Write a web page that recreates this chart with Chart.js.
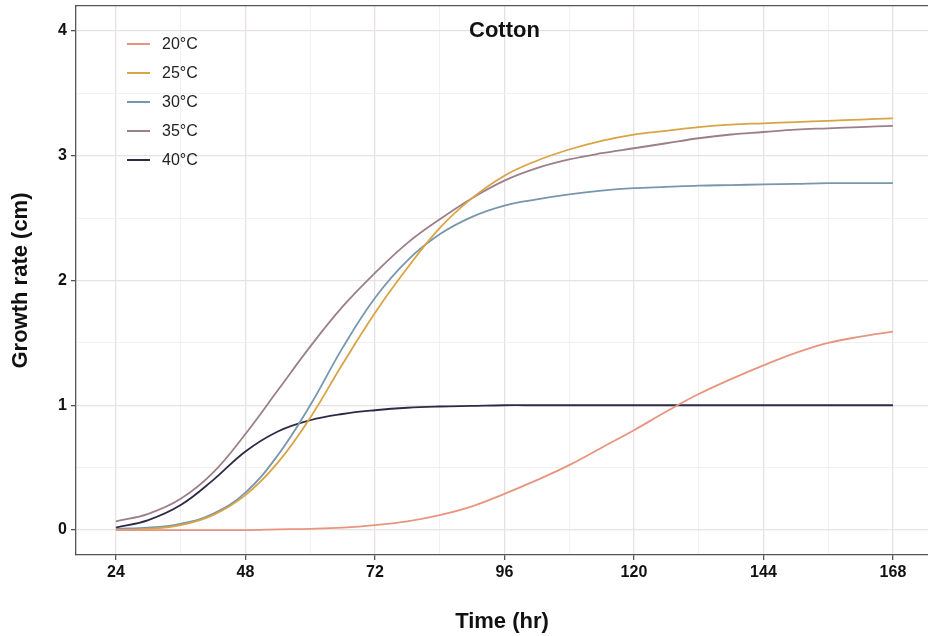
<!DOCTYPE html>
<html>
<head>
<meta charset="utf-8">
<title>Cotton growth</title>
<script src="https://cdn.jsdelivr.net/npm/chart.js@4.4.1/dist/chart.umd.min.js"></script>
<style>
  html, body { margin: 0; padding: 0; background: #fff; }
  #wrap { position: relative; width: 928px; height: 636px; overflow: hidden; }
  #legend { position: absolute; left: 127px; top: 30px; font-family: "Liberation Sans", Arial, sans-serif; font-size: 16px; color: #222; }
  .item { display: flex; align-items: center; height: 28.8px; }
  .swatch { width: 23px; height: 2px; margin-right: 12px; }
</style>
</head>
<body>
<div id="wrap">
  <canvas id="growth" width="928" height="636"></canvas>
  <div id="legend"></div>
</div>
<script>
// values, every 6 h
const hours = [24, 30, 36, 42, 48, 54, 60, 66, 72, 78, 84, 90, 96, 102, 108, 114, 120, 126, 132, 138, 144, 150, 156, 162, 168];
const temp20 = [0, 0, 0, 0, 0, 0.005, 0.01, 0.02, 0.04, 0.07, 0.12, 0.19, 0.29, 0.40, 0.52, 0.66, 0.80, 0.95, 1.09, 1.21, 1.32, 1.42, 1.50, 1.55, 1.59];
const temp25 = [0, 0.01, 0.04, 0.12, 0.28, 0.54, 0.90, 1.33, 1.74, 2.10, 2.42, 2.66, 2.84, 2.96, 3.05, 3.12, 3.17, 3.20, 3.23, 3.25, 3.26, 3.27, 3.28, 3.29, 3.30];
const temp30 = [0.01, 0.02, 0.05, 0.13, 0.30, 0.60, 1.00, 1.46, 1.86, 2.16, 2.37, 2.51, 2.60, 2.65, 2.69, 2.72, 2.74, 2.75, 2.76, 2.765, 2.77, 2.775, 2.78, 2.78, 2.78];
const temp35 = [0.07, 0.13, 0.25, 0.46, 0.77, 1.12, 1.47, 1.79, 2.06, 2.30, 2.49, 2.66, 2.80, 2.90, 2.97, 3.02, 3.06, 3.10, 3.14, 3.17, 3.19, 3.21, 3.22, 3.23, 3.24];
const temp40 = [0.02, 0.08, 0.20, 0.40, 0.63, 0.79, 0.88, 0.93, 0.96, 0.98, 0.99, 0.995, 1, 1, 1, 1, 1, 1, 1, 1, 1, 1, 1, 1, 1];

const seriesLabels = ['20°C', '25°C', '30°C', '35°C', '40°C'];
const seriesValues = [temp20, temp25, temp30, temp35, temp40];
const seriesColors = ['#e8957f', '#d8a444', '#7896ad', '#9b7f8a', '#2d2a47'];

const xTickLabels = [24, 48, 72, 96, 120, 144, 168];
const yTickLabels = [0, 1, 2, 3, 4];
const titleText = 'Cotton';
const titleAt = [96, 4];

const FONT = '"Liberation Sans", Arial, sans-serif';
const BORDER = '#555555';

const datasets = seriesLabels.map((label, i) => ({
    label: label,
    data: hours.map((h, j) => ({ x: h, y: seriesValues[i][j] })),
    borderColor: seriesColors[i],
    borderWidth: 1.8,
    pointRadius: 0,
    fill: false,
    tension: 0.4
}));

// legend inside the panel, top-left
const legendBox = document.getElementById('legend');
seriesLabels.forEach((label, i) => {
    const row = document.createElement('div');
    row.className = 'item';
    row.innerHTML = '<span class="swatch" style="background:' + seriesColors[i] + '"></span><span>' + label + '</span>';
    legendBox.appendChild(row);
});

const plotTitle = {
    id: 'plotTitle',
    afterDatasetsDraw(chart) {
        const { ctx, scales } = chart;
        ctx.save();
        ctx.font = 'bold 22px ' + FONT;
        ctx.fillStyle = '#111';
        ctx.textAlign = 'center';
        ctx.textBaseline = 'middle';
        ctx.fillText(titleText, scales.x.getPixelForValue(titleAt[0]), scales.y.getPixelForValue(titleAt[1]));
        ctx.restore();
    }
};

function gridColor(isMajor) { return isMajor ? '#e8e1e1' : '#f1ecec'; }

new Chart(document.getElementById('growth').getContext('2d'), {
    type: 'line',
    data: { datasets: datasets },
    options: {
        responsive: false,
        animation: false,
        layout: { padding: 0 },
        plugins: { legend: { display: false }, tooltip: { enabled: false } },
        scales: {
            x: {
                type: 'linear',
                min: 16.6,
                max: 174.5,
                afterFit: (s) => { s.height = 81; s.paddingLeft = 0; s.paddingRight = 0; },
                ticks: {
                    stepSize: 12,
                    includeBounds: false,
                    autoSkip: false,
                    maxRotation: 0,
                    padding: 3,
                    color: '#111',
                    font: { family: FONT, size: 16, weight: 'bold' },
                    callback: (v) => xTickLabels.includes(v) ? String(v) : ''
                },
                grid: {
                    color: (c) => gridColor(xTickLabels.includes(c.tick && c.tick.value)),
                    lineWidth: (c) => xTickLabels.includes(c.tick && c.tick.value) ? 1.3 : 0.8,
                    tickLength: 5,
                    tickColor: (c) => xTickLabels.includes(c.tick && c.tick.value) ? BORDER : 'rgba(0,0,0,0)'
                },
                border: { display: true, color: BORDER, width: 1.3 },
                title: {
                    display: true,
                    text: 'Time (hr)',
                    color: '#111',
                    font: { family: FONT, size: 22, weight: 'bold' },
                    padding: { top: 0, bottom: 1 }
                }
            },
            x2: {
                type: 'linear',
                position: 'top',
                min: 16.6,
                max: 174.5,
                afterFit: (s) => { s.height = 6; s.paddingLeft = 0; s.paddingRight = 0; },
                ticks: { display: false },
                grid: { display: false, drawTicks: false },
                border: { display: true, color: BORDER, width: 1.3 }
            },
            y: {
                type: 'linear',
                min: -0.2,
                max: 4.2,
                afterFit: (s) => { s.width = 76; s.paddingTop = 0; s.paddingBottom = 0; },
                ticks: {
                    stepSize: 0.5,
                    includeBounds: false,
                    padding: 4,
                    color: '#111',
                    font: { family: FONT, size: 16, weight: 'bold' },
                    callback: (v) => yTickLabels.includes(v) ? String(v) : ''
                },
                grid: {
                    color: (c) => gridColor(yTickLabels.includes(c.tick && c.tick.value)),
                    lineWidth: (c) => yTickLabels.includes(c.tick && c.tick.value) ? 1.3 : 0.8,
                    tickLength: 5,
                    tickColor: (c) => yTickLabels.includes(c.tick && c.tick.value) ? BORDER : 'rgba(0,0,0,0)'
                },
                border: { display: true, color: BORDER, width: 1.3 },
                title: {
                    display: true,
                    text: 'Growth rate (cm)',
                    color: '#111',
                    font: { family: FONT, size: 22, weight: 'bold' },
                    padding: { top: 8, bottom: 0 }
                }
            }
        }
    },
    plugins: [plotTitle]
});
</script>
</body>
</html>
